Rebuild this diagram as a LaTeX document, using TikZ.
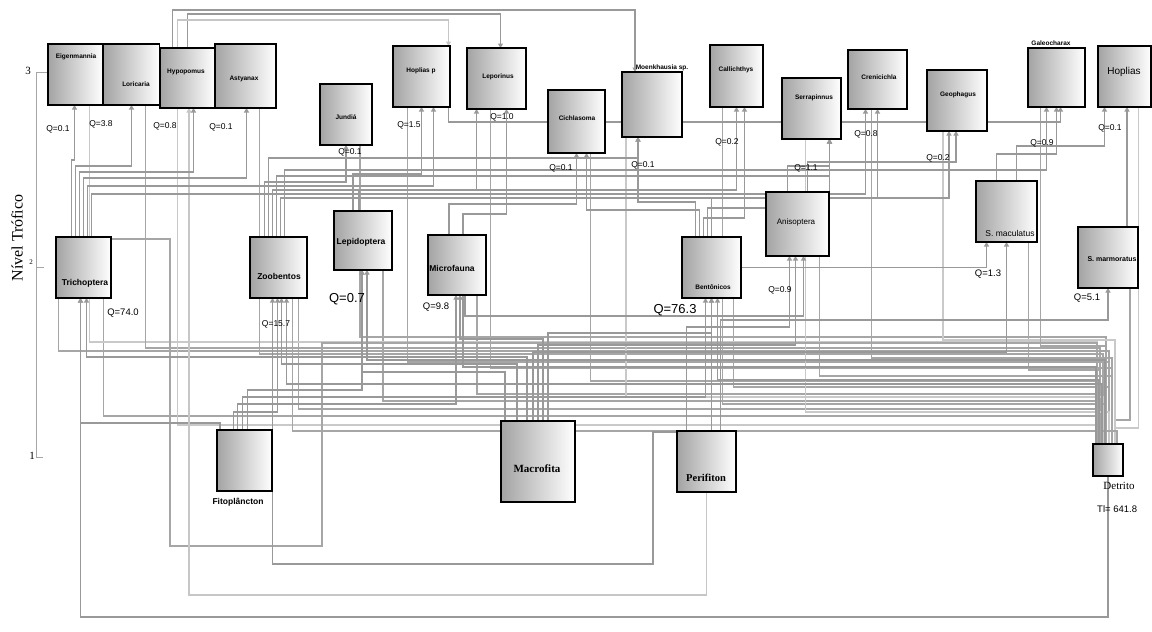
\documentclass[tikz,border=0pt]{standalone}
\usepackage{fontspec}
\setmainfont{Liberation Serif}
\setsansfont{Liberation Sans}
\usetikzlibrary{arrows.meta,calc,backgrounds}
\newcommand\flw[4][flow]{\draw[#1] let \p1=(#2), \p2=(#4) in (\p1) -- (\x1,-#3pt) -- (\x2,-#3pt) -- (\p2);}
\newcommand\mybox[5]{\node[box,minimum width=#4pt,minimum height=#5pt] (#1) at (#2,#3) {};}
\begin{document}
\begin{tikzpicture}[x=1pt,y=-1pt,
  box/.style={draw=black,line width=1.4pt,left color=gray!72,right color=white,inner sep=0pt,outer sep=0pt},
  flow/.style={draw=gray!80,line width=1.25pt,-{Triangle[width=5pt,length=4.5pt]}},
  flowl/.style={flow,draw=gray!45},
  dflow/.style={draw=gray!70,line width=1.15pt},
  dflowl/.style={draw=gray!42,line width=1.1pt},
  lbl/.style={font=\sffamily\bfseries\fontsize{6.5}{6.5}\selectfont,inner sep=0pt},
  mlbl/.style={font=\sffamily\bfseries\fontsize{8.5}{8.5}\selectfont,inner sep=0pt},
  qlbl/.style={font=\sffamily\fontsize{8.5}{8.5}\selectfont,inner sep=0pt},
  qbig/.style={font=\sffamily\fontsize{13}{13}\selectfont,inner sep=0pt},
  slbl/.style={font=\bfseries\fontsize{11}{11}\selectfont,inner sep=0pt},
  axis/.style={draw=gray!70,line width=1pt}]
\useasboundingbox (0,0) rectangle (1152,632);
% ---------- boxes ----------
\mybox{ep}{75.5}{74.5}{55}{61}
\mybox{lo}{131.5}{74.5}{56}{61}
\mybox{ox}{187.5}{78}{55}{60}
\mybox{as}{245.5}{76}{61}{64}
\mybox{ja}{346}{114.5}{52}{61}
\mybox{hp}{421.5}{76.5}{57}{61}
\mybox{le}{496.5}{78.5}{59}{61}
\mybox{ci}{576.5}{121.5}{57}{63}
\mybox{mo}{652}{104.5}{60}{65}
\mybox{au}{736.5}{76}{53}{62}
\mybox{se}{811.5}{108.5}{59}{61}
\mybox{cr}{877.5}{79.5}{59}{59}
\mybox{gy}{957}{100.5}{60}{61}
\mybox{ga}{1056.5}{77.5}{57}{59}
\mybox{ho}{1124.5}{76.5}{53}{61}
\mybox{tr}{83.5}{267.5}{55}{61}
\mybox{zo}{278.5}{267.5}{57}{61}
\mybox{lp}{363}{240.5}{58}{59}
\mybox{mi}{457}{265}{58}{60}
\mybox{be}{711.5}{267.5}{59}{61}
\mybox{an}{797.5}{224}{63}{64}
\mybox{sm}{1006.5}{211.5}{61}{61}
\mybox{si}{1108}{257.5}{60}{61}
\mybox{fi}{244.5}{460.5}{55}{61}
\mybox{ma}{538}{461.5}{74}{81}
\mybox{pe}{706.5}{461.5}{59}{61}
\mybox{de}{1108}{460}{30}{32}
% ---------- box labels ----------
\node[lbl] (ep-l) at (76,57) {Eigenmannia};
\node[lbl] (lo-l) at (136,84) {Loricaria};
\node[lbl] (ox-l) at (186,72) {Hypopomus};
\node[lbl] (as-l) at (244,79) {Astyanax};
\node[lbl] (ja-l) at (346,117) {Jundiá};
\node[lbl] (hp-l) at (421,71) {Hoplias p};
\node[lbl] (le-l) at (498,77) {Leporinus};
\node[lbl] (ci-l) at (577,118) {Cichlasoma};
\node[lbl] (mo-l) at (662,68) {Moenkhausia sp.};
\node[lbl] (au-l) at (736,70) {Callichthys};
\node[lbl] (se-l) at (814,98) {Serrapinnus};
\node[lbl] (cr-l) at (879,77) {Crenicichla};
\node[lbl] (gy-l) at (958,95) {Geophagus};
\node[lbl] (ga-l) at (1051,43) {Galeocharax};
\node[font=\sffamily\fontsize{10}{10}\selectfont,inner sep=0pt] (ho-l) at (1124,72) {Hoplias};
\node[mlbl] (tr-l) at (85,283) {Trichoptera};
\node[mlbl] (zo-l) at (279,276) {Zoobentos};
\node[mlbl] (lp-l) at (361,242) {Lepidoptera};
\node[mlbl] (mi-l) at (452,268) {Microfauna};
\node[lbl] (be-l) at (713,287) {Bentônicos};
\node[mlbl,font=\sffamily\fontsize{8}{8}\selectfont] (an-l) at (796,222) {Anisoptera};
\node[font=\sffamily\fontsize{8.5}{8.5}\selectfont,inner sep=0pt] (sm-l) at (1010,233) {S. maculatus};
\node[font=\sffamily\bfseries\fontsize{7}{7}\selectfont,inner sep=0pt] (si-l) at (1112,259) {S. marmoratus};
\node[mlbl] (fi-l) at (238,502) {Fitoplâncton};
\node[slbl] (ma-l) at (537,469) {Macrofita};
\node[slbl,font=\bfseries\fontsize{10.5}{10.5}\selectfont] (pe-l) at (706,478) {Perifiton};
\node[font=\fontsize{11}{11}\selectfont,inner sep=0pt] (de-l) at (1119,486) {Detrito};
% ---------- Q labels ----------
\node[qlbl] (ep-q) at (58,129) {Q=0.1};
\node[qlbl] (lo-q) at (101,124) {Q=3.8};
\node[qlbl] (ox-q) at (165,126) {Q=0.8};
\node[qlbl] (as-q) at (221,127) {Q=0.1};
\node[qlbl] (ja-q) at (350,152) {Q=0.1};
\node[qlbl] (hp-q) at (409,125) {Q=1.5};
\node[qlbl] (le-q) at (502,117) {Q=1.0};
\node[qlbl] (ci-q) at (561,168) {Q=0.1};
\node[qlbl] (mo-q) at (643,165) {Q=0.1};
\node[qlbl] (au-q) at (727,142) {Q=0.2};
\node[qlbl] (se-q) at (806,168) {Q=1.1};
\node[qlbl] (cr-q) at (866,134) {Q=0.8};
\node[qlbl] (gy-q) at (938,158) {Q=0.2};
\node[qlbl] (ga-q) at (1042,143) {Q=0.9};
\node[qlbl] (ho-q) at (1110,128) {Q=0.1};
\node[qlbl,font=\sffamily\fontsize{9.5}{9.5}\selectfont] (tr-q) at (123,313) {Q=74.0};
\node[qlbl] (zo-q) at (276,324) {Q=15.7};
\node[qbig] (lp-q) at (347,299) {Q=0.7};
\node[qlbl,font=\sffamily\fontsize{9.5}{9.5}\selectfont] (mi-q) at (436,307) {Q=9.8};
\node[qbig] (be-q) at (675,310) {Q=76.3};
\node[qlbl] (an-q) at (780,290) {Q=0.9};
\node[qlbl,font=\sffamily\fontsize{9.5}{9.5}\selectfont] (sm-q) at (988,274) {Q=1.3};
\node[qlbl,font=\sffamily\fontsize{9.5}{9.5}\selectfont] (si-q) at (1087,298) {Q=5.1};
\node[qlbl,font=\sffamily\fontsize{9.5}{9.5}\selectfont,anchor=west] (de-q) at (1097,509) {Tl= 641.8};
% ---------- axis ----------
\coordinate (ax3) at (36,72);
\coordinate (ax2) at (36,267);
\coordinate (ax1) at (36,457);
\node[font=\fontsize{16}{16}\selectfont,rotate=90,inner sep=0pt] (ylab) at (17,238) {Nível Trófico};
\node[font=\fontsize{11}{11}\selectfont,inner sep=0pt] (t3) at (28,71) {3};
\node[font=\fontsize{7}{7}\selectfont,inner sep=0pt] (t2) at (31,262) {2};
\node[font=\fontsize{11}{11}\selectfont,inner sep=0pt] (t1) at (32,456) {1};
% detritus entry points
\coordinate (d1) at ([xshift=-11pt]de.north);
\coordinate (d2) at ([xshift=-8pt]de.north);
\coordinate (d3) at ([xshift=-5pt]de.north);
\coordinate (d4) at ([xshift=-2pt]de.north);
\coordinate (d5) at ([xshift=1pt]de.north);
\coordinate (d6) at ([xshift=4pt]de.north);
\coordinate (d7) at ([xshift=7pt]de.north);
\begin{pgfonlayer}{background}
\fill[white] (0,0) rectangle (1152,632);
\draw[axis] (ax3) -- (ax1);
\draw[axis] (ax3) -- ++(11,0);
\draw[axis] (ax2) -- ++(8,0);
\draw[axis] (ax1) -- ++(7,0);
% ---------- detritus flows ----------
\flw[dflow]{[xshift=20pt]tr.south}{416}{d1}
\flw[dflow]{[xshift=20pt]zo.south}{409}{d2}
\flw[dflow]{[xshift=20pt]lp.south}{401}{d3}
\flw[dflow]{[xshift=20pt]mi.south}{394}{d4}
\flw[dflow]{[xshift=22pt]be.south}{387}{d5}
\flw[dflow]{[xshift=22pt]an.south}{376}{d6}
\flw[dflow]{[xshift=22pt]sm.south}{370}{d2}
\flw[dflow]{[xshift=22pt]si.south}{420}{d7}
\flw[dflow]{[xshift=-25pt]tr.south}{351}{d5}
\flw[dflowl]{[xshift=14pt]ep.south}{342}{d1}
\flw[dflow]{[xshift=14pt]lo.south}{348}{d2}
\flw[dflowl]{[xshift=-10pt]ox.south}{425}{d1}
\flw[dflow]{[xshift=14pt]as.south}{354}{d3}
\flw[dflow]{[xshift=14pt]ja.south}{337}{d4}
\flw[dflow]{[xshift=-14pt]hp.south}{362}{d5}
\flw[dflow]{[xshift=-6pt]le.south}{368}{d6}
\flw[dflow]{[xshift=14pt]ci.south}{381}{d1}
\flw[dflowl]{[xshift=-26pt]mo.south}{397}{d3}
\flw[dflow]{[xshift=-14pt]au.south}{404}{d4}
\flw[dflowl]{[xshift=-6pt]se.south}{412}{d5}
\flw[dflow]{[xshift=-6pt]cr.south}{358}{d6}
\flw[dflowl]{[xshift=-14pt]gy.south}{340}{d7}
\flw[dflow]{[xshift=-16pt]ga.south}{346}{d4}
\flw[dflowl]{[xshift=14pt]ho.south}{428}{d7}
\flw[dflow]{[xshift=14pt]zo.south}{431}{[xshift=9pt]de.north}
\draw[dflow] ([yshift=-2pt]tr.north east) -- ++(59,0) -- ++(0,307) -- ++(152,0) -- ++(0,-203) -| (d1);
% ---------- producers -> consumers ----------
\flw{[xshift=3pt]fi.north west}{423}{[xshift=-3pt]tr.south}
\flw{[xshift=-11pt]fi.north}{412}{[xshift=-1pt]zo.south}
\flw{[xshift=-7pt]fi.north}{404}{[xshift=-1pt]mi.south}
\flw{[xshift=-2pt]fi.north}{397}{[xshift=-6pt]be.south}
\flw{[xshift=3pt]fi.north}{390}{[xshift=-1pt]lp.south}
\flw{[xshift=-33pt]ma.north}{372}{[xshift=-1pt]lp.south}
\flw{[xshift=-21pt]ma.north}{364}{[xshift=3pt]zo.south}
\flw{[xshift=-11pt]ma.north}{357}{[xshift=3pt]tr.south}
\flw{[xshift=-5pt]ma.north}{352}{sm.south}
\flw{[xshift=0pt]ma.north}{345}{[xshift=-2pt]an.south}
\flw{[xshift=5pt]ma.north}{339}{[xshift=3pt]mi.south}
\flw{[xshift=10pt]ma.north}{333}{be.south}
\draw[flow] ([xshift=5pt]pe.north) -- (be.south);
\flw{[xshift=-20pt]pe.north}{327}{[xshift=-8pt]an.south}
\flw{[xshift=14pt]pe.north}{320}{si.south}
\flw{[xshift=-12pt]de.north}{367}{[xshift=6pt]mi.south}
\flw{[xshift=-9pt]de.north}{380}{[xshift=6pt]be.south}
\flw{[xshift=-6pt]de.north}{384}{[xshift=8pt]zo.south}
\flw{[xshift=-3pt]de.north}{360}{[xshift=4pt]lp.south}
\flw{de.south}{617}{[xshift=-3pt]tr.south}
\flw[flowl]{pe.south}{595}{[xshift=1.5pt]ox.south}
\draw[flow] ([yshift=-1pt]pe.north west) -- ++(-24,0) -- ++(0,132) -| ([xshift=-6pt]zo.south);
% ---------- consumers -> upper consumers ----------
\flw{[xshift=-12pt]tr.north}{160}{[xshift=-1pt]ep.south}
\flw{[xshift=-8pt]tr.north}{166}{lo.south}
\flw{[xshift=-4pt]tr.north}{172}{[xshift=6pt]ox.south}
\flw{[xshift=0pt]tr.north}{178}{[xshift=1pt]as.south}
\flw{[xshift=4pt]tr.north}{186}{[xshift=12pt]hp.south}
\flw{[xshift=8pt]tr.north}{194}{[xshift=-12pt]cr.south}
\flw{[xshift=-14pt]zo.north}{182}{ja.south}
\flw{[xshift=-10pt]zo.north}{158}{[xshift=-14pt]mo.south}
\flw{[xshift=-6pt]zo.north}{190}{au.south}
\flw{[xshift=-2pt]zo.north}{176}{[xshift=18pt]se.south}
\flw{[xshift=2pt]zo.north}{198}{[xshift=-8pt]gy.south}
\flw{[xshift=6pt]zo.north}{170}{[xshift=-10pt]ga.south}
\flw{[xshift=-10pt]lp.north}{174}{hp.south}
\flw{[xshift=-4pt]lp.north}{190}{[xshift=-20pt]le.south}
\flw{[xshift=-8pt]mi.north}{204}{ci.south}
\flw{[xshift=6pt]mi.north}{214}{[xshift=10pt]le.south}
\flw{[xshift=8pt]mi.south}{316}{[xshift=6pt]an.south}
\flw{[xshift=-16pt]be.north}{202}{[xshift=-14pt]mo.south}
\flw{[xshift=-12pt]be.north}{210}{[xshift=10pt]ci.south}
\flw{[xshift=-8pt]be.north}{218}{[xshift=8pt]au.south}
\flw{[xshift=-4pt]be.north}{208}{[xshift=18pt]se.south}
\flw{[xshift=0pt]be.north}{198}{cr.south}
\draw[flow] (be.east) -| ([xshift=-20pt]sm.south);
\flw{[xshift=-10pt]an.north}{166}{[xshift=18pt]se.south}
\flw{[xshift=10pt]an.north}{162}{[xshift=-1pt]gy.south}
\flw{[xshift=-10pt]sm.north}{154}{ga.south}
\flw{[xshift=10pt]sm.north}{146}{[xshift=-20pt]ho.south}
\draw[flow] ([xshift=19pt]si.north) -- ([xshift=2.5pt]ho.south);
% ---------- top lines ----------
\flw{[xshift=-15pt]ox.north}{10}{[xshift=-17pt]mo.north}
\flw{[xshift=0pt]ox.north}{14}{[xshift=4pt]le.north}
\flw[flowl]{[xshift=-10pt]ox.north}{20}{[xshift=27pt]hp.north}
\flw{[xshift=27pt]hp.south}{122}{[xshift=4pt]ga.south}
\end{pgfonlayer}
\end{tikzpicture}
\end{document}
